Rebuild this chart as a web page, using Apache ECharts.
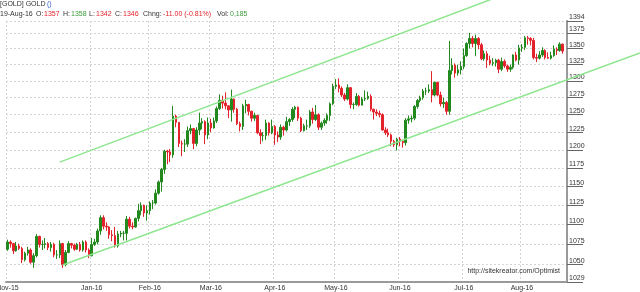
<!DOCTYPE html>
<html><head><meta charset="utf-8">
<script src="https://cdn.jsdelivr.net/npm/echarts@6/dist/echarts.min.js"></script>
<style>html,body{margin:0;padding:0;background:#fff}#c{width:640px;height:292px}</style>
</head><body><div id="c"></div>
<script>
const dates = [
'2015-11-19','2015-11-20','2015-11-23','2015-11-24','2015-11-25','2015-11-27','2015-11-30',
'2015-12-01','2015-12-02','2015-12-03','2015-12-04','2015-12-07','2015-12-08','2015-12-09','2015-12-10','2015-12-11','2015-12-14','2015-12-15','2015-12-16','2015-12-17','2015-12-18','2015-12-21','2015-12-22','2015-12-23','2015-12-24','2015-12-28','2015-12-29','2015-12-30','2015-12-31',
'2016-01-04','2016-01-05','2016-01-06','2016-01-07','2016-01-08','2016-01-11','2016-01-12','2016-01-13','2016-01-14','2016-01-15','2016-01-18','2016-01-19','2016-01-20','2016-01-21','2016-01-22','2016-01-25','2016-01-26','2016-01-27','2016-01-28','2016-01-29',
'2016-02-01','2016-02-02','2016-02-03','2016-02-04','2016-02-05','2016-02-08','2016-02-09','2016-02-10','2016-02-11','2016-02-12','2016-02-15','2016-02-16','2016-02-17','2016-02-18','2016-02-19','2016-02-22','2016-02-23','2016-02-24','2016-02-25','2016-02-26','2016-02-29',
'2016-03-01','2016-03-02','2016-03-03','2016-03-04','2016-03-07','2016-03-08','2016-03-09','2016-03-10','2016-03-11','2016-03-14','2016-03-15','2016-03-16','2016-03-17','2016-03-18','2016-03-21','2016-03-22','2016-03-23','2016-03-24','2016-03-28','2016-03-29','2016-03-30','2016-03-31',
'2016-04-01','2016-04-04','2016-04-05','2016-04-06','2016-04-07','2016-04-08','2016-04-11','2016-04-12','2016-04-13','2016-04-14','2016-04-15','2016-04-18','2016-04-19','2016-04-20','2016-04-21','2016-04-22','2016-04-25','2016-04-26','2016-04-27','2016-04-28','2016-04-29',
'2016-05-02','2016-05-03','2016-05-04','2016-05-05','2016-05-06','2016-05-09','2016-05-10','2016-05-11','2016-05-12','2016-05-13','2016-05-16','2016-05-17','2016-05-18','2016-05-19','2016-05-20','2016-05-23','2016-05-24','2016-05-25','2016-05-26','2016-05-27','2016-05-30','2016-05-31',
'2016-06-01','2016-06-02','2016-06-03','2016-06-06','2016-06-07','2016-06-08','2016-06-09','2016-06-10','2016-06-13','2016-06-14','2016-06-15','2016-06-16','2016-06-17','2016-06-20','2016-06-21','2016-06-22','2016-06-23','2016-06-24','2016-06-27','2016-06-28','2016-06-29','2016-06-30',
'2016-07-01','2016-07-05','2016-07-06','2016-07-07','2016-07-08','2016-07-11','2016-07-12','2016-07-13','2016-07-14','2016-07-15','2016-07-18','2016-07-19','2016-07-20','2016-07-21','2016-07-22','2016-07-25','2016-07-26','2016-07-27','2016-07-28','2016-07-29',
'2016-08-01','2016-08-02','2016-08-03','2016-08-04','2016-08-05','2016-08-08','2016-08-09','2016-08-10','2016-08-11','2016-08-12','2016-08-15','2016-08-16','2016-08-17','2016-08-18','2016-08-19'
];
const open = [
1069,1078,1076,1067,1073,1070,1056,
1064,1068,1053,1061,1085,1075,1075,1076,1071,1075,1062,1062,1076,1050,1065,1076,1074,1069,1075,1068,1078,1068,
1061,1075,1078,1092,1109,1098,1097,1087,1086,1073,1088,1089,1089,1107,1098,1097,1108,1118,1125,1115,
1118,1128,1128,1141,1156,1173,1198,1197,1193,1248,1239,1209,1208,1208,1227,1230,1209,1228,1238,1240,1221,
1238,1231,1241,1259,1271,1267,1263,1257,1273,1258,1237,1233,1263,1265,1255,1245,1249,1224,1220,1220,1238,1224,
1233,1221,1218,1232,1228,1240,1243,1258,1261,1245,1227,1234,1234,1254,1243,1250,1232,1238,1242,1249,1266,
1292,1294,1289,1279,1273,1290,1265,1265,1277,1264,1273,1274,1277,1258,1254,1252,1250,1228,1224,1221,1212,1207,
1215,1212,1210,1242,1244,1245,1262,1271,1275,1285,1285,1287,1279,1298,1279,1266,1268,1255,1316,1324,1312,1317,
1322,1339,1358,1366,1358,1366,1356,1334,1342,1332,1327,1328,1332,1318,1330,1323,1318,1321,1340,1332,
1351,1352,1367,1366,1363,1336,1335,1340,1347,1336,1335,1339,1349,1347,1357
];
const high = [
1081,1080,1077,1078,1076,1072,1066,
1072,1070,1064,1088,1086,1080,1083,1078,1078,1077,1068,1080,1077,1068,1079,1077,1076,1077,1078,1080,1080,1070,
1083,1082,1095,1112,1112,1103,1098,1093,1097,1092,1092,1092,1111,1110,1103,1109,1127,1129,1126,1125,
1130,1132,1146,1158,1175,1200,1200,1201,1263,1250,1239,1213,1215,1233,1236,1230,1232,1253,1245,1242,1246,
1244,1246,1262,1280,1278,1283,1264,1287,1274,1260,1240,1266,1272,1266,1256,1253,1250,1229,1225,1243,1239,1243,
1235,1226,1236,1234,1247,1245,1261,1263,1262,1247,1237,1243,1257,1260,1264,1252,1240,1245,1252,1268,1296,
1303,1304,1292,1282,1295,1291,1268,1282,1279,1276,1286,1284,1280,1259,1258,1256,1252,1232,1230,1223,1214,1217,
1218,1214,1245,1249,1249,1264,1273,1278,1288,1290,1295,1315,1299,1299,1284,1275,1270,1362,1335,1327,1325,1330,
1350,1360,1375,1370,1372,1368,1359,1347,1346,1339,1335,1334,1334,1336,1333,1325,1325,1341,1345,1356,
1357,1370,1370,1368,1367,1342,1346,1352,1349,1344,1345,1355,1352,1360,1358
];
const low = [
1067,1071,1063,1066,1068,1052,1054,
1061,1051,1046,1059,1071,1068,1070,1068,1066,1059,1057,1058,1046,1048,1064,1070,1067,1068,1066,1066,1065,1058,
1060,1073,1075,1087,1094,1092,1082,1079,1071,1071,1084,1080,1080,1095,1094,1096,1104,1112,1110,1105,
1113,1120,1126,1139,1143,1167,1180,1183,1189,1232,1204,1191,1197,1204,1222,1201,1205,1221,1229,1208,1215,
1225,1230,1238,1257,1259,1258,1245,1240,1253,1235,1226,1228,1252,1249,1240,1241,1222,1208,1212,1214,1220,1222,
1207,1211,1214,1220,1226,1234,1240,1245,1241,1225,1226,1228,1231,1237,1241,1228,1228,1234,1237,1241,1264,
1288,1283,1276,1270,1271,1259,1258,1263,1262,1264,1270,1272,1255,1243,1248,1246,1227,1221,1218,1205,1204,1199,
1205,1203,1206,1237,1239,1242,1259,1268,1272,1279,1282,1268,1277,1277,1262,1260,1250,1250,1310,1305,1308,1310,
1318,1337,1350,1352,1338,1349,1332,1331,1320,1324,1323,1322,1312,1315,1320,1314,1314,1318,1330,1325,
1345,1348,1356,1355,1333,1329,1333,1337,1333,1334,1333,1337,1340,1345,1342
];
const close = [
1078,1076,1067,1073,1070,1056,1064,
1068,1053,1061,1085,1075,1075,1076,1071,1075,1062,1062,1076,1050,1065,1076,1074,1069,1075,1068,1078,1068,1061,
1075,1078,1092,1109,1098,1097,1087,1086,1073,1088,1089,1089,1107,1098,1097,1108,1118,1125,1115,1118,
1128,1128,1141,1156,1173,1198,1197,1193,1248,1239,1209,1208,1208,1227,1230,1209,1228,1238,1240,1221,1238,
1231,1241,1259,1271,1267,1263,1257,1273,1258,1237,1233,1263,1265,1255,1245,1249,1224,1220,1220,1238,1224,1233,
1221,1218,1232,1228,1240,1243,1258,1261,1245,1227,1234,1234,1254,1243,1250,1232,1238,1242,1249,1266,1292,
1294,1289,1279,1273,1290,1265,1265,1277,1264,1273,1274,1277,1258,1254,1252,1250,1228,1224,1221,1212,1207,1215,
1212,1210,1242,1244,1245,1262,1271,1275,1285,1285,1287,1279,1298,1279,1266,1268,1255,1316,1324,1312,1317,1322,
1339,1358,1366,1358,1366,1356,1334,1342,1332,1327,1328,1332,1318,1330,1323,1318,1321,1340,1332,1351,
1352,1367,1366,1363,1336,1335,1340,1347,1336,1335,1339,1349,1347,1357,1346
];
const yTicks = [1029,1050,1075,1100,1125,1150,1175,1200,1225,1250,1275,1300,1325,1350,1375,1394];
const xTickLabels = ['Nov-15','Jan-16','Feb-16','Mar-16','Apr-16','May-16','Jun-16','Jul-16','Aug-16'];
// trend lines: two anchor points each [category index, price]
const trendUpper = [[18.1, 1183], [110.9, 1332]];
const trendLower = [[18.8, 1049.5], [183.2, 1286.5]];

const MON = ['Jan','Feb','Mar','Apr','May','Jun','Jul','Aug','Sep','Oct','Nov','Dec'];
function monthLabel(d){ if(!d) return ''; const p=d.split('-'); return MON[+p[1]-1]+'-'+p[0].slice(2); }
const labelIdx = new Set();
dates.forEach((d,i)=>{ const lab=monthLabel(d); if(xTickLabels.includes(lab) && (i===0 || monthLabel(dates[i-1])!==lab)) labelIdx.add(i); });
const cats = dates.concat(['']);
const candles = dates.map((d,i)=>[open[i], close[i], low[i], high[i]]);

const FONT = 'Liberation Sans, Arial, sans-serif';
const UP = '#23891f', DOWN = '#e3232b';
const chart = echarts.init(document.getElementById('c'), null, {renderer:'canvas'});
chart.setOption({
  animation:false,
  backgroundColor:'#fff',
  grid:{left:6, right:73, top:21, bottom:10, containLabel:false, outerBoundsMode:'none'},
  xAxis:{type:'category', data:cats, boundaryGap:true,
    axisLine:{show:true, lineStyle:{color:'#9a9a9a', width:2}},
    axisTick:{show:false},
    axisLabel:{interval:(i)=>labelIdx.has(i), formatter:(v)=>monthLabel(v), fontSize:7, color:'#333', margin:3, fontFamily:FONT},
    splitLine:{show:true, interval:(i)=>labelIdx.has(i), lineStyle:{color:'#d4d4d4', type:[2,2], width:1}}
  },
  yAxis:{type:'log', logBase:10, position:'right', min:1029, max:1394,
    axisLine:{show:true, lineStyle:{color:'#9a9a9a', width:2}},
    axisTick:{show:true, customValues:yTicks, length:16, inside:false, lineStyle:{color:'#666', width:1}},
    axisLabel:{customValues:yTicks, formatter:(v)=>String(Math.round(v)), fontSize:7, color:'#333', margin:2, verticalAlign:'bottom', align:'left', fontFamily:FONT},
    splitLine:{show:true, lineStyle:{color:'#d4d4d4', type:[2,2], width:1}}
  },
  series:[{type:'candlestick', data:candles, barWidth:2,
    itemStyle:{color:UP, color0:DOWN, borderColor:UP, borderColor0:DOWN, borderWidth:1}}]
});

function lineFrom(tr){
  const a = chart.convertToPixel({gridIndex:0}, tr[0]);
  const b = chart.convertToPixel({gridIndex:0}, tr[1]);
  const slope = (b[1]-a[1])/(b[0]-a[0]);
  return {x1:a[0], y1:a[1], x2:640, y2:a[1]+slope*(640-a[0])};
}
const hdr = [
  ['19-Aug-16',0,'#333'],['O:',36,'#333'],['1357',44,DOWN],['H:',63,'#333'],['1358',71,'#3a9a3a'],
  ['L:',89,'#333'],['1342',96,DOWN],['C:',115,'#333'],['1346',123,DOWN],['Chng:',143,'#333'],
  ['-11.00 (-0.81%)',163,DOWN],['Vol:',217,'#333'],['0,185',230,'#3a9a3a']
];
const g = [
  {type:'text', left:0, top:1, style:{text:'[GOLD] GOLD', fill:'#333', font:'7px '+FONT}},
  {type:'text', left:47, top:1, style:{text:'()', fill:'#3366cc', font:'7px '+FONT}},
  {type:'text', right:80, top:268, style:{text:'http://sitekreator.com/Optimist', fill:'#333', font:'7px '+FONT}},
  {type:'line', z:10, shape:lineFrom(trendUpper), style:{stroke:'#8ee68e', lineWidth:1.5}},
  {type:'line', z:10, shape:lineFrom(trendLower), style:{stroke:'#8ee68e', lineWidth:1.5}}
];
hdr.forEach(h=>g.push({type:'text', left:h[1], top:11, style:{text:h[0], fill:h[2], font:'7px '+FONT}}));
chart.setOption({graphic:g});
</script>
</body></html>
